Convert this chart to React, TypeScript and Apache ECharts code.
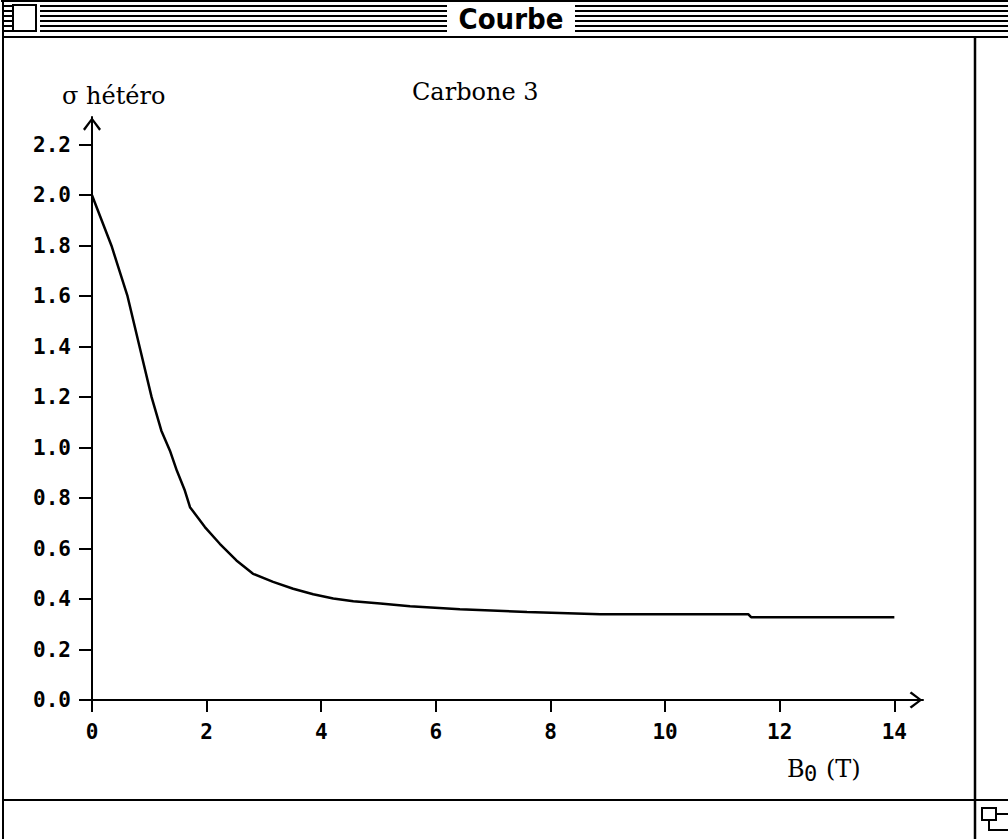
import React, { useEffect, useRef } from "react";
import * as echarts from "echarts";

const windowTitle = "Courbe";
const chartTitle = "Carbone 3";
const yAxisTitle = "σ hétéro";
const xAxisTitleMain = "B";
const xAxisTitleSub = "0";
const xAxisTitleUnit = "(T)";

const bField = [0, 0.34, 0.62, 0.83, 1.04, 1.21, 1.36, 1.48, 1.62, 1.71, 1.97, 2.23, 2.52, 2.81, 3.16, 3.51, 3.86, 4.21, 4.56, 5.03, 5.55, 6.42, 7.59, 8.87, 10.0, 11.45, 11.5, 14.0];
const sigmaHetero = [2.0, 1.8, 1.6, 1.4, 1.2, 1.067, 0.988, 0.909, 0.83, 0.764, 0.685, 0.619, 0.553, 0.5, 0.468, 0.441, 0.419, 0.402, 0.391, 0.382, 0.371, 0.36, 0.349, 0.34, 0.34, 0.34, 0.328, 0.328];

const xTicks = [0, 2, 4, 6, 8, 10, 12, 14];
const yTicks = [0, 0.2, 0.4, 0.6, 0.8, 1.0, 1.2, 1.4, 1.6, 1.8, 2.0, 2.2];

const chevron = "path://M10,0 L20,13 L18,15 L10,4 L2,15 L0,13 Z";
const labelFont = "'DejaVu Sans Mono', monospace";
const serifFont = "'DejaVu Serif', serif";

export default function App() {
  const ref = useRef<HTMLDivElement>(null);
  useEffect(() => {
    if (!ref.current) return;
    const chart = echarts.init(ref.current, undefined, { renderer: "svg" });

    const stripeYs = [6, 11, 16, 21, 26, 31];
    const stripes: any[] = [];
    stripeYs.forEach((y) => {
      stripes.push({ type: "line", shape: { x1: 2, y1: y, x2: 12, y2: y }, style: { stroke: "#000", lineWidth: 2 } });
      stripes.push({ type: "line", shape: { x1: 40, y1: y, x2: 447, y2: y }, style: { stroke: "#000", lineWidth: 2 } });
      stripes.push({ type: "line", shape: { x1: 575, y1: y, x2: 1008, y2: y }, style: { stroke: "#000", lineWidth: 2 } });
    });

    const option: any = {
      animation: false,
      backgroundColor: "#fff",
      grid: { left: 92, right: 85, top: 117, bottom: 139, containLabel: false },
      xAxis: {
        type: "value",
        min: 0,
        max: 14.5,
        interval: 2,
        axisLine: {
          show: true,
          onZero: false,
          lineStyle: { color: "#000", width: 2 },
          symbol: ["none", chevron],
          symbolSize: [17, 15],
          symbolOffset: [0, -7],
        },
        axisTick: { show: true, length: 12, lineStyle: { color: "#000", width: 2 }, customValues: xTicks },
        axisLabel: {
          customValues: xTicks,
          color: "#000",
          fontSize: 21,
          fontWeight: "bold",
          fontFamily: labelFont,
          margin: 21,
          formatter: (v: number) => String(v),
        },
        splitLine: { show: false },
      },
      yAxis: {
        type: "value",
        min: 0,
        max: 2.31,
        interval: 0.2,
        axisLine: {
          show: true,
          onZero: false,
          lineStyle: { color: "#000", width: 2 },
          symbol: ["none", chevron],
          symbolSize: [18, 14],
          symbolOffset: [0, -7],
        },
        axisTick: { show: true, length: 13, lineStyle: { color: "#000", width: 2 }, customValues: yTicks },
        axisLabel: {
          customValues: yTicks,
          color: "#000",
          fontSize: 21,
          fontWeight: "bold",
          fontFamily: labelFont,
          margin: 21,
          formatter: (v: number) => v.toFixed(1),
        },
        splitLine: { show: false },
      },
      series: [
        {
          type: "line",
          data: bField.map((b, i) => [b, sigmaHetero[i]]),
          showSymbol: false,
          symbol: "none",
          lineStyle: { color: "#000", width: 2.5 },
          z: 3,
        },
      ],
      graphic: [
        ...stripes,
        { type: "rect", shape: { x: 13, y: 5, width: 23, height: 26 }, style: { fill: "#fff", stroke: "#000", lineWidth: 2 } },
        {
          type: "text",
          style: {
            x: 511,
            y: 19,
            text: windowTitle,
            font: "bold 29px 'DejaVu Sans Condensed', 'Liberation Sans Narrow', 'DejaVu Sans', sans-serif",
            fill: "#000",
            textAlign: "center",
            textVerticalAlign: "middle",
          },
        },
        { type: "line", shape: { x1: 1, y1: 1, x2: 1008, y2: 1 }, style: { stroke: "#000", lineWidth: 2 } },
        { type: "line", shape: { x1: 2, y1: 37, x2: 1008, y2: 37 }, style: { stroke: "#000", lineWidth: 2 } },
        { type: "line", shape: { x1: 3, y1: 0, x2: 3, y2: 839 }, style: { stroke: "#000", lineWidth: 2 } },
        { type: "line", shape: { x1: 975, y1: 37, x2: 975, y2: 839 }, style: { stroke: "#000", lineWidth: 2.5 } },
        { type: "line", shape: { x1: 3, y1: 800, x2: 1008, y2: 800 }, style: { stroke: "#000", lineWidth: 2 } },
        { type: "rect", shape: { x: 982, y: 808, width: 14, height: 12 }, style: { fill: "#fff", stroke: "#000", lineWidth: 2 } },
        { type: "polyline", shape: { points: [[989, 820], [989, 830], [1008, 830]] }, style: { fill: "none", stroke: "#000", lineWidth: 2 } },
        { type: "line", shape: { x1: 996, y1: 814, x2: 1008, y2: 814 }, style: { stroke: "#000", lineWidth: 2 } },
        {
          type: "text",
          style: { x: 62, y: 84, text: yAxisTitle, font: `24px ${serifFont}`, fill: "#000", textVerticalAlign: "top" },
        },
        {
          type: "text",
          style: { x: 412, y: 80, text: chartTitle, font: `24px ${serifFont}`, fill: "#000", textVerticalAlign: "top" },
        },
        {
          type: "text",
          style: { x: 787, y: 757, text: xAxisTitleMain, font: `24px ${serifFont}`, fill: "#000", textVerticalAlign: "top" },
        },
        {
          type: "text",
          style: { x: 804, y: 762, text: xAxisTitleSub, font: `22px ${labelFont}`, fill: "#000", textVerticalAlign: "top" },
        },
        {
          type: "text",
          style: { x: 826, y: 757, text: xAxisTitleUnit, font: `24px ${serifFont}`, fill: "#000", textVerticalAlign: "top" },
        },
      ],
    };
    chart.setOption(option);
    return () => chart.dispose();
  }, []);

  return (
    <div
      ref={ref}
      style={{ position: "absolute", left: 0, top: 0, width: 1008, height: 839, background: "#fff" }}
    />
  );
}
